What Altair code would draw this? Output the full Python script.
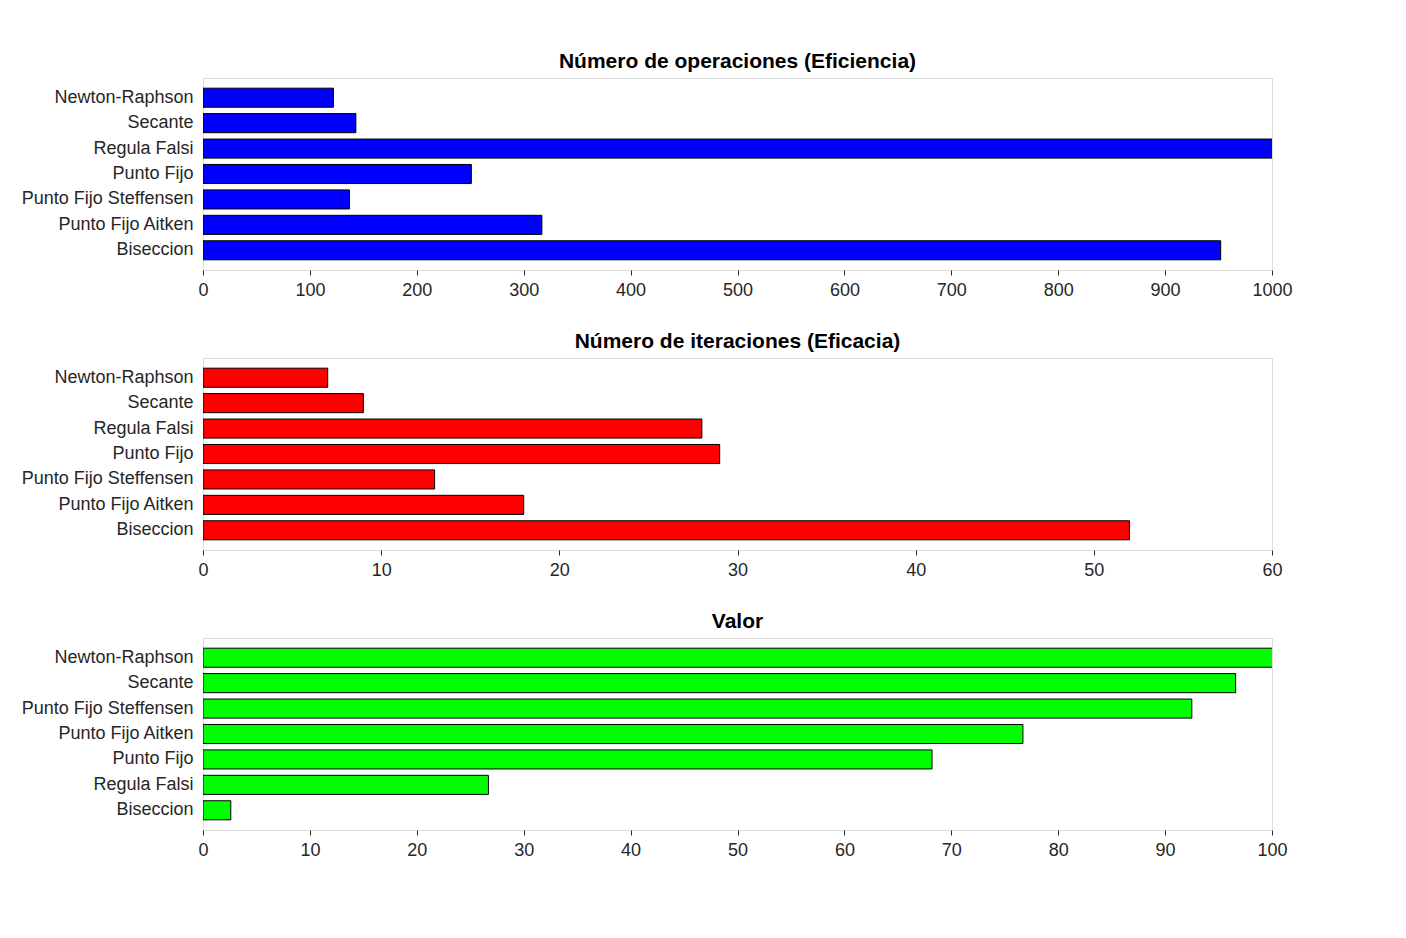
import altair as alt
import pandas as pd

cats1 = ["Newton-Raphson", "Secante", "Regula Falsi", "Punto Fijo", "Punto Fijo Steffensen", "Punto Fijo Aitken", "Biseccion"]
ops = [122, 143, 1010, 251, 137, 317, 952]
cats2 = ["Newton-Raphson", "Secante", "Regula Falsi", "Punto Fijo", "Punto Fijo Steffensen", "Punto Fijo Aitken", "Biseccion"]
iters = [7, 9, 28, 29, 13, 18, 52]
cats3 = ["Newton-Raphson", "Secante", "Punto Fijo Steffensen", "Punto Fijo Aitken", "Punto Fijo", "Regula Falsi", "Biseccion"]
valor = [100.5, 96.6, 92.5, 76.7, 68.2, 26.7, 2.6]

FONT = "Liberation Sans"

def panel(cats, vals, color, title, xmax, step):
    df = pd.DataFrame({"m": cats, "v": vals})
    return alt.Chart(df, title=alt.Title(title, fontSize=21, font=FONT, fontWeight="bold", color="black", offset=6)).mark_bar(
        color=color, stroke="black", strokeWidth=1, clip=True
    ).encode(
        y=alt.Y("m:N", sort=cats, title=None,
                scale=alt.Scale(paddingInner=0.25, paddingOuter=0.4),
                axis=alt.Axis(ticks=False, domain=False, labelFontSize=18, labelFont=FONT,
                              labelColor="#262626", labelPadding=10)),
        x=alt.X("v:Q", title=None,
                scale=alt.Scale(domain=[0, xmax], nice=False),
                axis=alt.Axis(values=list(range(0, xmax + 1, step)), grid=False, domain=False,
                              format="d", labelFlush=False, labelAlign="center",
                              tickSize=5, tickColor="#262626", labelFontSize=18, labelFont=FONT,
                              labelColor="#262626", labelPadding=6)),
    ).properties(width=1069, height=192)

chart = alt.vconcat(
    panel(cats1, ops, "#0000ff", "Número de operaciones (Eficiencia)", 1000, 100),
    panel(cats2, iters, "#ff0000", "Número de iteraciones (Eficacia)", 60, 10),
    panel(cats3, valor, "#00ff00", "Valor", 100, 10),
    spacing=30,
).configure_view(stroke="black", strokeWidth=1).configure(background="white").properties(
    padding={"top": 42, "left": 12, "right": 10, "bottom": 10}
)

chart.save("out.html", embed_options={"renderer": "svg", "actions": False})
